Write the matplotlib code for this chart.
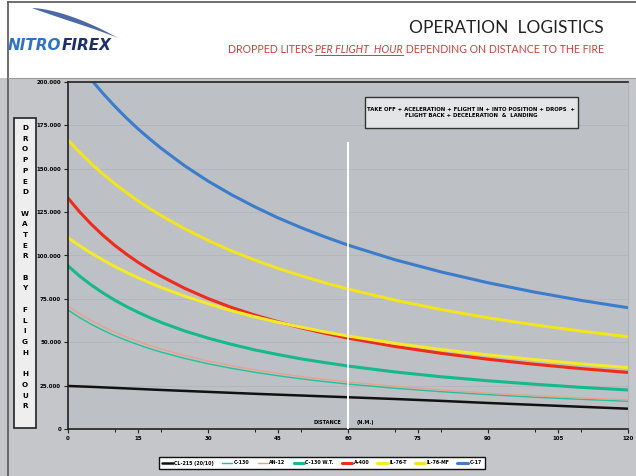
import numpy as np
import matplotlib
matplotlib.use("Agg")
import matplotlib.pyplot as plt
from matplotlib.patches import Rectangle, Polygon
from matplotlib.lines import Line2D

# distance to the fire (N.M.) and liters dropped per flight hour
dist = [0, 2.5, 5, 7.5, 10, 12.5, 15, 17.5, 20, 25, 30, 35, 40, 45, 50, 55, 60, 70, 80, 90, 100, 110, 120]
cl215 = [24800, 24550, 24300, 24000, 23700, 23400, 23100, 22800, 22500, 21950, 21400, 20850, 20300,
         19800, 19300, 18800, 18300, 17300, 16200, 15000, 13900, 12800, 11700]
c130 = [68600, 64200, 60300, 56900, 53800, 51100, 48600, 46300, 44300, 40700, 37600, 35000, 32700,
        30700, 28900, 27300, 25900, 23500, 21500, 19800, 18300, 17100, 16000]
an12 = [70900, 66500, 62500, 59000, 55900, 53100, 50500, 48200, 46100, 42400, 39200, 36500, 34100,
        32100, 30200, 28600, 27100, 24600, 22500, 20700, 19200, 17900, 16800]
c130wt = [94000, 88100, 83000, 78400, 74300, 70600, 67300, 64200, 61400, 56500, 52400, 48800, 45600,
          42900, 40400, 38300, 36300, 32900, 30100, 27800, 25800, 24000, 22500]
a400 = [133100, 125100, 118000, 111600, 105900, 100800, 96100, 91900, 88000, 81100, 75200, 70100, 65700,
        61800, 58300, 55200, 52400, 47600, 43600, 40200, 37300, 34800, 32600]
il76t = [110200, 105600, 101300, 97400, 93700, 90300, 87200, 84300, 81500, 76600, 72200, 68200, 64700,
         61500, 58700, 56000, 53600, 49400, 45800, 42700, 40000, 37500, 35400]
il76mf = [166500, 159400, 152900, 146900, 141400, 136300, 131500, 127100, 122900, 115400, 108700, 102700,
          97400, 92600, 88300, 84300, 80700, 74300, 68800, 64100, 60000, 56400, 53200]
c17 = [219200, 209900, 201300, 193400, 186100, 179300, 173000, 167200, 161700, 151700, 142900, 135100,
       128100, 121700, 116000, 110800, 106000, 97600, 90500, 84300, 78900, 74100, 69900]

names = ["CL-215 (20/10)", "C-130", "AN-12", "C-130 W.T.", "A-400", "IL-76-T", "IL-76-MF", "C-17"]
series = [cl215, c130, an12, c130wt, a400, il76t, il76mf, c17]
colors = ["#111111", "#22c09a", "#eba08c", "#14b98c", "#ee2b1c", "#f4ea2a", "#f2e51f", "#3b7ccc"]
widths = [1.8, 1.0, 1.0, 2.2, 2.2, 2.2, 2.2, 2.2]

yticks = [0, 25000, 50000, 75000, 100000, 125000, 150000, 175000, 200000]
xticks = [0, 15, 30, 45, 60, 75, 90, 105, 120]

W, H = 636, 476
def fx(px):
    return px / W
def fy(py):
    return 1 - py / H

fig = plt.figure(figsize=(6.36, 4.76), dpi=100, facecolor="#c4c6c9")

# white header band and page frame
fig.patches.append(Rectangle((0, fy(78)), 1, 1 - fy(78), transform=fig.transFigure,
                             facecolor="white", edgecolor="none", zorder=0))
fig.add_artist(Line2D([fx(8), 1], [fy(2), fy(2)], color="#555555", lw=1.2))
fig.add_artist(Line2D([fx(8), fx(8)], [fy(2), 0], color="#555555", lw=1.2))
fig.add_artist(Line2D([fx(8), 1], [fy(78), fy(78)], color="#9a9a9a", lw=0.8))

ax = fig.add_axes([fx(68), fy(429), fx(628) - fx(68), fy(82) - fy(429)])
ax.set_facecolor("#bdc0c4")
for vals, name, col, lw in zip(series, names, colors, widths):
    ax.plot(dist, vals, color=col, lw=lw, label=name, solid_capstyle="round",
            solid_joinstyle="round")

ax.plot([60, 60], [0, 165000], color="white", lw=1.4, zorder=5)

ax.set_xlim(0, 120)
ax.set_ylim(0, 200000)
ax.set_xticks(xticks)
ax.set_xticklabels([str(v) for v in xticks])
ax.set_xticks(range(0, 121, 10), minor=True)
ax.set_yticks(yticks)
ax.set_yticklabels([f"{v:,}".replace(",", ".") for v in yticks])
ax.tick_params(axis="both", labelsize=4, width=0.8, length=3, color="#222222", pad=2)
ax.tick_params(axis="x", which="minor", length=2, width=0.6)
for lab in ax.get_xticklabels() + ax.get_yticklabels():
    lab.set_fontweight("bold")
ax.grid(axis="y", color="#b2b5b9", lw=0.6)
ax.set_axisbelow(True)
for side in ["left", "bottom", "top"]:
    ax.spines[side].set_color("#222222")
    ax.spines[side].set_linewidth(1.2)
ax.spines["right"].set_color("#b0b3b7")

ax.text(55.5, 3500, "DISTANCE", fontsize=3.6, fontweight="bold", ha="center", va="center")
ax.text(63.8, 3500, "(N.M.)", fontsize=3.6, fontweight="bold", ha="center", va="center")

# note box
fig.patches.append(Rectangle((fx(365), fy(128)), fx(578) - fx(365), fy(97) - fy(128),
                             transform=fig.transFigure, facecolor="#e4e5e6",
                             edgecolor="#333333", lw=1.0, zorder=3))
fig.text(fx(471), fy(112.5), "TAKE OFF + ACELERATION + FLIGHT IN + INTO POSITION + DROPS  +\n"
         "FLIGHT BACK + DECELERATION  &  LANDING", fontsize=3.9, fontweight="bold",
         ha="center", va="center", linespacing=1.3, zorder=4)

# vertical axis caption, one letter per row, a blank row between words
fig.patches.append(Rectangle((fx(14), fy(428)), fx(36) - fx(14), fy(118) - fy(428),
                             transform=fig.transFigure, facecolor="#eeeeee",
                             edgecolor="#222222", lw=1.2, zorder=3))
caption = "DROPPED WATER BY FLIGH HOUR"
for slot, ch in enumerate(caption):
    if ch != " ":
        fig.text(fx(25), fy(128 + slot * 10.7), ch, fontsize=5.2, fontweight="bold",
                 ha="center", va="center", zorder=4)

# legend
ax.legend(loc="center", bbox_to_anchor=(fx(322), fy(463)), bbox_transform=fig.transFigure,
          ncol=8, prop={"size": 3.4, "weight": "bold"}, frameon=True, fancybox=False,
          edgecolor="#111111", facecolor="white", framealpha=1, handlelength=2.2,
          columnspacing=1.7, handletextpad=0.3, borderpad=0.7)
ax.get_legend().get_frame().set_linewidth(1.0)

# header texts
fig.text(fx(604), fy(28), "OPERATION  LOGISTICS", fontsize=12.5, family="Lato",
         color="#222222", ha="right", va="center")

red = "#c8423a"
r = fig.canvas.get_renderer()
t3 = fig.text(fx(604), fy(53), " DEPENDING ON DISTANCE TO THE FIRE", fontsize=7.6,
              family="Lato", color=red, ha="right", va="baseline")
x3 = t3.get_window_extent(r).x0
t2 = fig.text(x3 / fig.bbox.width, fy(53), "PER FLIGHT  HOUR", fontsize=7.6, family="Lato",
              style="italic", color=red, ha="right", va="baseline")
b2 = t2.get_window_extent(r)
fig.add_artist(Line2D([b2.x0 / fig.bbox.width, b2.x1 / fig.bbox.width],
                      [fy(55), fy(55)], color=red, lw=0.7))
fig.text(b2.x0 / fig.bbox.width, fy(53), "DROPPED LITERS ", fontsize=7.6, family="Lato",
         color=red, ha="right", va="baseline")

# logo swoosh and wordmark
t = np.linspace(0, 1, 40)
upper_x = 32 + 86 * t
upper_y = 8 + 30 * t ** 1.6
lower_x = upper_x[::-1]
lower_y = upper_y[::-1] + 5 * np.sin(np.pi * t[::-1] ** 0.8)
pts = np.column_stack([fx(np.r_[upper_x, lower_x]), fy(np.r_[upper_y, lower_y])])
fig.patches.append(Polygon(pts, closed=True, transform=fig.transFigure,
                           facecolor="#2d4f95", edgecolor="none", alpha=0.85))
tn = fig.text(fx(8), fy(45), "NITRO", fontsize=11, fontweight="heavy", style="italic",
              color="#2f73c4", ha="left", va="center")
bn = tn.get_window_extent(r)
fig.text(bn.x1 / fig.bbox.width, fy(45), "FIREX", fontsize=11, fontweight="heavy",
         style="italic", color="#1d2f6a", ha="left", va="center")

fig.savefig("out.png", dpi=100, facecolor=fig.get_facecolor())
